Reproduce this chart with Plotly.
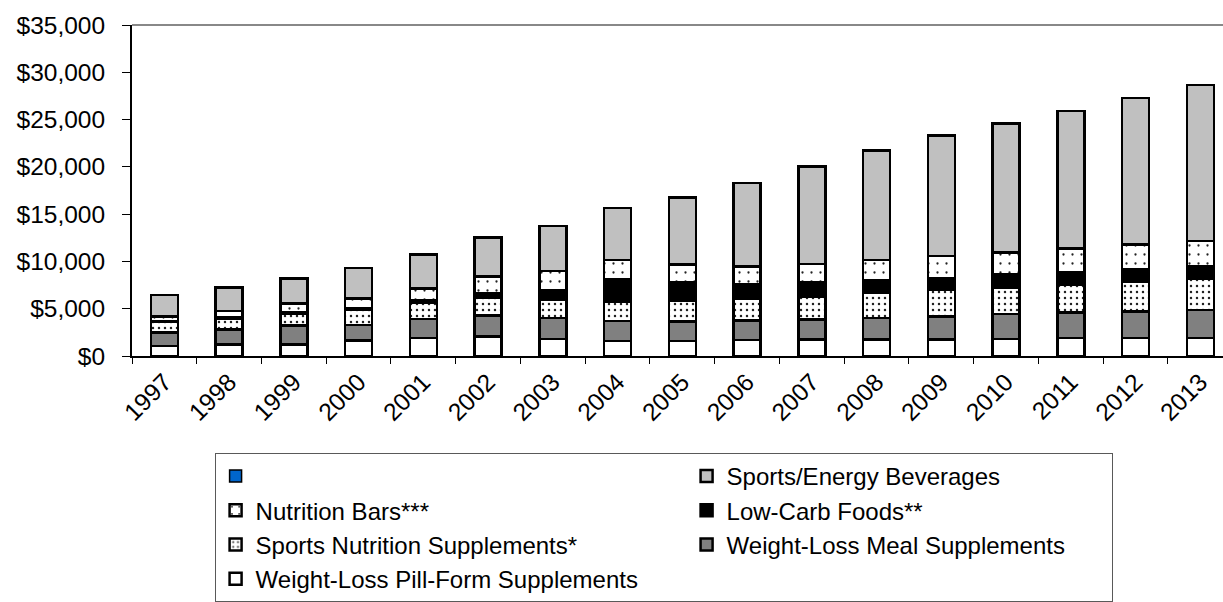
import plotly.graph_objects as go

# Sales by segment, $ millions
years = [str(y) for y in range(1997, 2014)]
pill_form = [1050, 1230, 1230, 1640, 1890, 2060, 1820, 1580, 1600, 1680, 1740, 1770, 1740, 1820, 1890, 1890, 1920]
meal_supp = [1440, 1580, 1970, 1650, 2030, 2210, 2180, 2100, 2040, 2060, 2100, 2250, 2460, 2630, 2730, 2840, 2940]
sports_supp = [1120, 1160, 1220, 1580, 1680, 1860, 1920, 2060, 2170, 2310, 2460, 2660, 2800, 2810, 2900, 3150, 3260]
low_carb = [100, 180, 180, 180, 250, 490, 1080, 2390, 2040, 1540, 1470, 1370, 1230, 1400, 1370, 1290, 1330]
nutrition_bars = [450, 590, 950, 1050, 1300, 1790, 2000, 2030, 1850, 1860, 1960, 2100, 2340, 2280, 2490, 2630, 2690]
beverages = [2270, 2490, 2630, 3180, 3600, 4100, 4730, 5510, 7080, 8830, 10300, 11590, 12720, 13660, 14540, 15500, 16540]

FONT = "Liberation Sans, Arial, sans-serif"
OUTLINE = dict(color="#000000", width=2.5)
LEFT_COL_W = 426
RIGHT_COL_W = 380

fig = go.Figure()

# (name, values, marker, legend entry width)
series = [
    ("Weight-Loss Pill-Form Supplements", pill_form, dict(color="#ffffff"), LEFT_COL_W),
    ("Weight-Loss Meal Supplements", meal_supp, dict(color="#808080"), RIGHT_COL_W),
    ("Sports Nutrition Supplements*", sports_supp,
     dict(color="#ffffff", pattern=dict(shape=".", fgcolor="#222222", bgcolor="#ffffff",
                                        size=6, solidity=0.13, fillmode="replace")), LEFT_COL_W),
    ("Low-Carb Foods**", low_carb, dict(color="#000000"), RIGHT_COL_W),
    ("Nutrition Bars***", nutrition_bars,
     dict(color="#ffffff", pattern=dict(shape=".", fgcolor="#222222", bgcolor="#ffffff",
                                        size=9, solidity=0.05, fillmode="replace")), LEFT_COL_W),
    ("Sports/Energy Beverages", beverages, dict(color="#c0c0c0"), RIGHT_COL_W),
]

for name, vals, marker, lw in series:
    fig.add_trace(go.Bar(x=years, y=vals, name=name, legendwidth=lw,
                         marker=dict(line=OUTLINE, **marker)))

# Unlabelled series: a single empty point so it keeps its legend entry
fig.add_trace(go.Bar(x=[years[0]], y=[None], name=" ", legendwidth=LEFT_COL_W,
                     marker=dict(color="#0066cc", line=dict(color="#000000", width=1.5))))

fig.update_layout(
    width=1223, height=602,
    margin=dict(l=132, r=0, t=25, b=244),
    barmode="stack",
    bargap=0.583,
    plot_bgcolor="#ffffff",
    paper_bgcolor="#ffffff",
    font=dict(family=FONT, size=24, color="#000000"),
    showlegend=True,
    legend=dict(
        orientation="h",
        traceorder="reversed",
        x=0.0757, xanchor="left",
        y=-0.294, yanchor="top",
        bordercolor="#595959", borderwidth=1,
        bgcolor="#ffffff",
        font=dict(family=FONT, size=24, color="#000000"),
    ),
    xaxis=dict(
        type="category",
        range=[-0.5, 16.35],
        tickangle=-45,
        tickson="boundaries",
        ticks="outside", ticklen=6, tickcolor="#000000", tickwidth=1,
        showline=True, linecolor="#000000", linewidth=2,
        showgrid=False,
        tickfont=dict(family=FONT, size=24.5, color="#000000"),
    ),
    yaxis=dict(
        range=[0, 35000],
        dtick=5000,
        tickprefix="$",
        tickformat=",",
        ticks="outside", ticklen=8, tickcolor="#000000", tickwidth=1,
        ticklabelstandoff=12,
        showline=True, linecolor="#000000", linewidth=2,
        showgrid=False, zeroline=False,
        tickfont=dict(family=FONT, size=24.5, color="#000000"),
    ),
    shapes=[
        dict(type="line", xref="paper", yref="paper", x0=0, x1=1, y0=1, y1=1,
             line=dict(color="#888888", width=2)),
    ],
)

fig.write_html("out.html")
